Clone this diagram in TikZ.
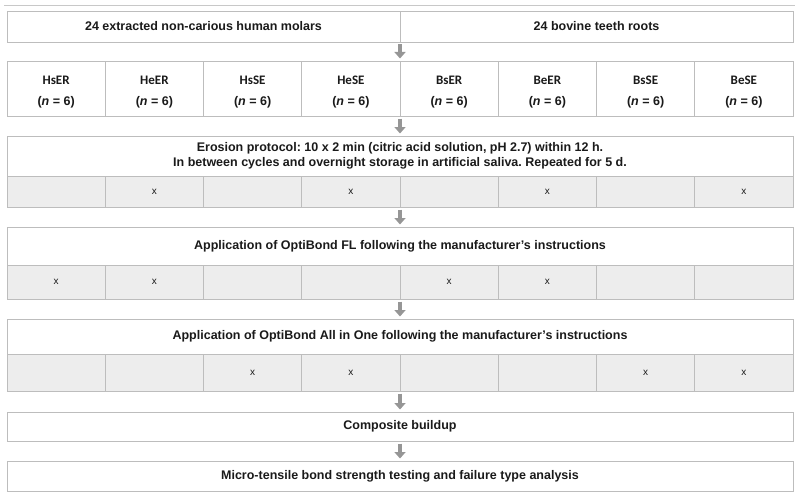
\documentclass[tikz,border=0pt]{standalone}
\usepackage{fontspec}
\setmainfont{Liberation Sans}
\newfontfamily\calib{Carlito}
\usetikzlibrary{shadows,arrows.meta}
\definecolor{bordergray}{HTML}{BDBDBD}
\definecolor{shadowgray}{HTML}{A3A3A3}
\definecolor{cellgray}{HTML}{EDEDED}
\definecolor{arrowfill}{HTML}{969696}
\definecolor{txt}{HTML}{1A1A1A}
\definecolor{rulegray}{HTML}{C8C8C8}
\frenchspacing
\begin{document}
\begin{tikzpicture}[x=1pt,y=-1pt,
  box/.style={draw=bordergray, line width=0.9pt, fill=white, inner sep=0pt, outer sep=0pt,
    text=txt, align=center, font=\bfseries\fontsize{12.5}{15}\selectfont,
    general shadow={fill=shadowgray, shadow xshift=0.4pt, shadow yshift=-1.4pt}},
  cell/.style={box, fill=cellgray, font=\fontsize{10}{12}\selectfont, minimum width=98.25pt},
  grp/.style={box, minimum width=98.25pt, minimum height=55pt},
  grplabel/.style={inner sep=0pt, text=txt, align=center, font=\bfseries\fontsize{12.5}{15}\selectfont},
  flow/.style={draw=arrowfill, line width=4.2pt, shorten <=2.5pt, shorten >=2.5pt,
    -{Triangle[width=11pt,length=6.5pt]}},
  toprule/.style={draw=rulegray, line width=0.8pt}
]
\useasboundingbox (0,0) rectangle (799,500);
% top rule
\coordinate (rl) at (4,5.5);
\coordinate (rr) at (795,5.5);
\draw[toprule] (rl) -- (rr);
% top row
\node[box, minimum width=393pt, minimum height=31pt] (t1) at (203.5,26.5) {24 extracted non-carious human molars};
\node[box, minimum width=393pt, minimum height=31pt] (t2) at (596.5,26.5) {24 bovine teeth roots};
% groups
\foreach \n [count=\j from 0] in {HsER,HeER,HsSE,HeSE,BsER,BeER,BsSE,BeSE}{
  \node[grp] (g\j) at ({56.125+98.25*\j},88.5) {};
  \node[grplabel] (gl\j) at ([yshift=-3.5pt]g\j.center)
    {{\calib\fontsize{13}{15}\selectfont\n}\\[6.5pt](\textit{n} = 6)};
}
% erosion
\node[box, minimum width=786pt, minimum height=40pt] (eh) at (400,156)
  {Erosion protocol: 10 x 2 min (citric acid solution, pH 2.7) within 12 h.\\In between cycles and overnight storage in artificial saliva. Repeated for 5 d.};
\foreach \m [count=\j from 0] in {{},x,{},x,{},x,{},x}
  \node[cell, minimum height=31pt] (e\j) at ({56.125+98.25*\j},191.5) {\m};
% OptiBond FL
\node[box, minimum width=786pt, minimum height=38pt] (fh) at (400,246)
  {Application of OptiBond FL following the manufacturer’s instructions};
\foreach \m [count=\j from 0] in {x,x,{},{},x,x,{},{}}
  \node[cell, minimum height=34pt] (f\j) at ({56.125+98.25*\j},282) {\m};
% OptiBond All in One
\node[box, minimum width=786pt, minimum height=35pt] (ah) at (400,336.5)
  {Application of OptiBond All in One following the manufacturer’s instructions};
\foreach \m [count=\j from 0] in {{},{},x,x,{},{},x,x}
  \node[cell, minimum height=37pt] (a\j) at ({56.125+98.25*\j},372.5) {\m};
% composite and testing
\node[box, minimum width=786pt, minimum height=29pt] (cb) at (400,426.5) {Composite buildup};
\node[box, minimum width=786pt, minimum height=30pt] (mt) at (400,476)
  {Micro-tensile bond strength testing and failure type analysis};
% arrows
\draw[flow] (t1.south east) -- (g4.north west);
\draw[flow] (g3.south east) -- (eh.north);
\draw[flow] (e3.south east) -- (fh.north);
\draw[flow] (f3.south east) -- (ah.north);
\draw[flow] (a3.south east) -- (cb.north);
\draw[flow] (cb.south) -- (mt.north);
\end{tikzpicture}
\end{document}
